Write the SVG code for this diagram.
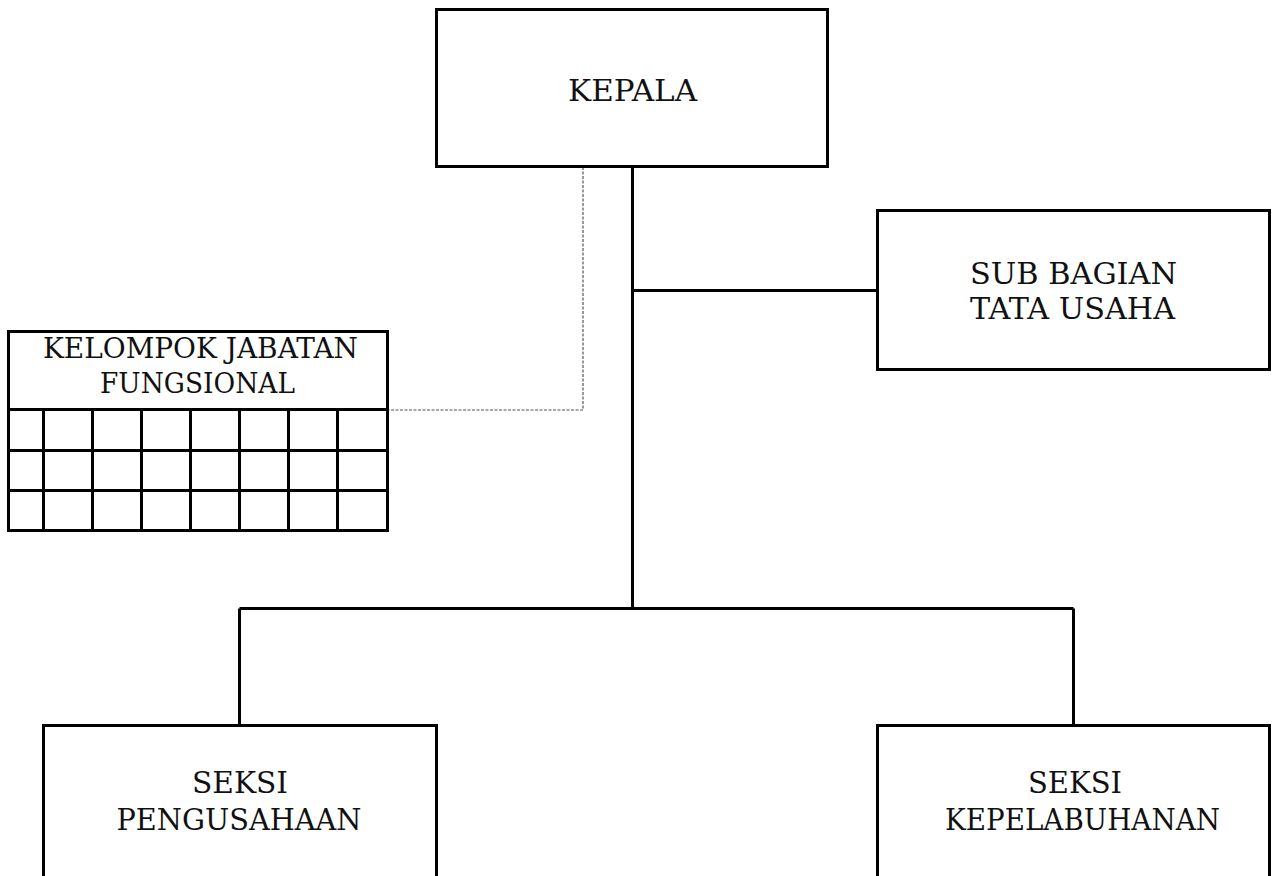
<svg xmlns="http://www.w3.org/2000/svg" width="1272" height="876" viewBox="0 0 1272 876">
<style>
.box{fill:#fff;stroke:#000;stroke-width:3}
.ln{fill:none;stroke:#000;stroke-width:3}
.dash{fill:none;stroke:#555;stroke-width:1.2;stroke-dasharray:3 1.5}
text{font-family:"DejaVu Serif","Liberation Serif",serif;font-size:30px;fill:#111;text-anchor:middle}
.sm{font-size:28px}
</style>
<rect width="1272" height="876" fill="#fff"/>
<g id="connectors">
<path class="ln" d="M632.5,167 V608.5 M632.5,290.5 H877 M239.5,608.5 H1073.5 M239.5,608.5 V725 M1073.5,608.5 V725"/>
<path class="dash" d="M583,167 V410 H388"/>
</g>
<g id="kepala">
<rect class="box" x="436.5" y="9.5" width="391" height="157"/>
<text x="632.5" y="100.5" textLength="129" lengthAdjust="spacingAndGlyphs">KEPALA</text>
</g>
<g id="subbagian">
<rect class="box" x="877.5" y="210.5" width="392" height="159"/>
<text x="1073.5" y="284" textLength="207" lengthAdjust="spacingAndGlyphs">SUB BAGIAN</text>
<text x="1072.5" y="319" textLength="205" lengthAdjust="spacingAndGlyphs">TATA USAHA</text>
</g>
<g id="kelompok">
<rect class="box" x="8.5" y="331.5" width="379" height="199"/>
<text class="sm" x="200.5" y="358" textLength="315" lengthAdjust="spacingAndGlyphs">KELOMPOK JABATAN</text>
<text class="sm" x="197.5" y="393" textLength="195" lengthAdjust="spacingAndGlyphs">FUNGSIONAL</text>
<path class="ln" d="M8,409.5 H388 M8,450.5 H388 M8,490.5 H388 M43.5,409.5 V530 M92.5,409.5 V530 M141.5,409.5 V530 M190.5,409.5 V530 M239.5,409.5 V530 M288.5,409.5 V530 M337.5,409.5 V530"/>
</g>
<g id="pengusahaan">
<rect class="box" x="43.5" y="725.5" width="393" height="170"/>
<text x="240" y="793" textLength="96" lengthAdjust="spacingAndGlyphs">SEKSI</text>
<text x="239" y="830" textLength="245" lengthAdjust="spacingAndGlyphs">PENGUSAHAAN</text>
</g>
<g id="kepelabuhanan">
<rect class="box" x="877.5" y="725.5" width="392" height="170"/>
<text x="1075" y="793" textLength="94" lengthAdjust="spacingAndGlyphs">SEKSI</text>
<text x="1082.5" y="830" textLength="275" lengthAdjust="spacingAndGlyphs">KEPELABUHANAN</text>
</g>
</svg>
